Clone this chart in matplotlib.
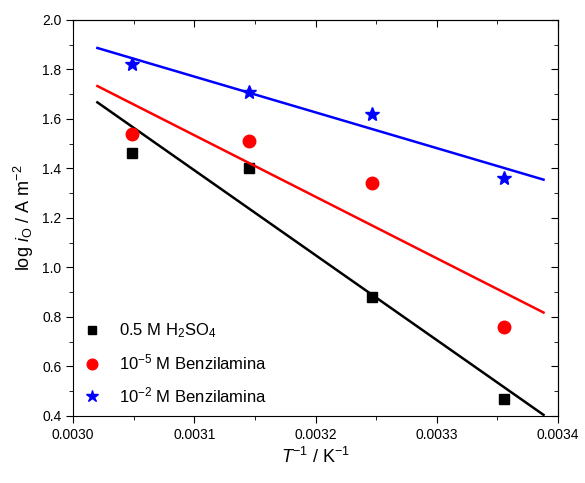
import numpy as np
import matplotlib.pyplot as plt
from matplotlib.ticker import MultipleLocator

plt.rcParams['font.family'] = ['Liberation Sans', 'DejaVu Sans']
plt.rcParams['mathtext.fontset'] = 'custom'
plt.rcParams['mathtext.rm'] = 'Liberation Sans'
plt.rcParams['mathtext.it'] = 'Liberation Sans:italic'

# 1/T for 328, 318, 308, 298 K
temps = np.array([328, 318, 308, 298])
inv_T = 1.0 / temps

log_h2so4 = [1.46, 1.40, 0.88, 0.47]
log_benz_5 = [1.54, 1.51, 1.34, 0.76]
log_benz_2 = [1.82, 1.71, 1.62, 1.36]

labels = ["0.5 M H$_2$SO$_4$", "10$^{-5}$ M Benzilamina", "10$^{-2}$ M Benzilamina"]
colors = ["black", "red", "blue"]
markers = ["s", "o", "*"]
msizes = [7.5, 9, 10.5]

fig = plt.figure(figsize=(5.85, 4.83), dpi=100)
ax = fig.add_axes([0.125, 0.139, 0.829, 0.82])

x_fit = np.linspace(0.00302, 0.003388, 50)
for y, c, m, ms, lab in zip([log_h2so4, log_benz_5, log_benz_2], colors, markers, msizes, labels):
    ax.plot(inv_T, y, linestyle='none', marker=m, color=c, markersize=ms, label=lab)
    p = np.polyfit(inv_T, y, 1)
    ax.plot(x_fit, np.polyval(p, x_fit), color=c, lw=1.8)

ax.set_xlim(0.0030, 0.0034)
ax.set_ylim(0.4, 2.0)
ax.xaxis.set_major_locator(MultipleLocator(0.0001))
ax.xaxis.set_minor_locator(MultipleLocator(0.00005))
ax.yaxis.set_major_locator(MultipleLocator(0.2))
ax.yaxis.set_minor_locator(MultipleLocator(0.1))
ax.xaxis.set_major_formatter(plt.FuncFormatter(lambda v, pos: f"{v:.4f}"))
ax.yaxis.set_major_formatter(plt.FuncFormatter(lambda v, pos: f"{v:.1f}"))
ax.tick_params(which='both', direction='out', labelsize=10)
ax.tick_params(which='major', length=5)
ax.tick_params(which='minor', length=3)

top = ax.secondary_xaxis('top')
top.xaxis.set_major_locator(MultipleLocator(0.0001))
top.xaxis.set_minor_locator(MultipleLocator(0.00005))
top.tick_params(which='both', direction='in', labeltop=False)
top.tick_params(which='major', length=5)
top.tick_params(which='minor', length=3)
right = ax.secondary_yaxis('right')
right.yaxis.set_major_locator(MultipleLocator(0.2))
right.yaxis.set_minor_locator(MultipleLocator(0.1))
right.tick_params(which='both', direction='in', labelright=False)
right.tick_params(which='major', length=5)
right.tick_params(which='minor', length=3)

ax.set_xlabel("$T$$^{-1}$ / K$^{-1}$", fontsize=13)
ax.set_ylabel("log $i$$_{\\mathrm{O}}$ / A m$^{-2}$", fontsize=13)

ax.legend(loc='lower left', frameon=False, fontsize=12, handletextpad=1.1,
          labelspacing=0.75, borderaxespad=0.35, handlelength=1.0,
          borderpad=0.3, markerscale=0.85)

fig.savefig("out.png", dpi=100)
